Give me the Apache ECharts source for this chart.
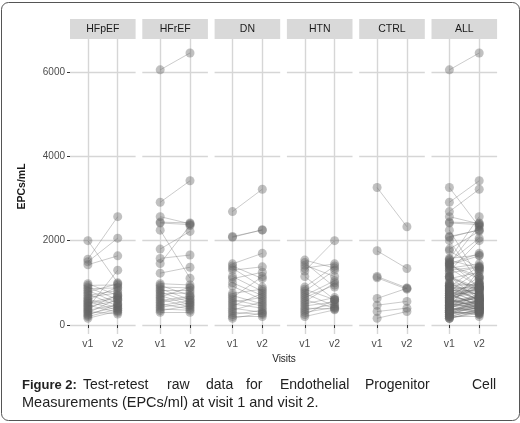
<!DOCTYPE html>
<html><head><meta charset="utf-8">
<script src="https://cdn.jsdelivr.net/npm/echarts@6/dist/echarts.min.js"></script>
<style>html,body{margin:0;padding:0;background:#fff}#c{width:520px;height:423px}</style>
</head><body><div id="c"></div>
<script>
// ---- data (EPCs/mL at visit 1 and visit 2, per group) ----
const panels = ['HFpEF', 'HFrEF', 'DN', 'HTN', 'CTRL', 'ALL'];
const visitLabels = ['v1', 'v2'];
const yTicks = [0, 2000, 4000, 6000];

const HFpEF_v1 = [2000, 1560, 1500, 1430, 980, 940, 900, 860, 820, 780, 740, 700, 660, 620, 590, 560, 530, 500, 470, 440, 410, 380, 350, 320, 290, 260, 230, 200, 160];
const HFpEF_v2 = [1000, 2570, 2060, 1640, 700, 950, 600, 880, 520, 980, 450, 820, 760, 400, 900, 350, 680, 640, 300, 580, 1300, 720, 480, 260, 620, 430, 500, 380, 330];

const HFrEF_v1 = [6050, 2910, 2570, 2440, 2420, 2250, 1800, 1580, 1460, 1230, 980, 940, 900, 860, 820, 780, 740, 700, 660, 620, 580, 540, 500, 460, 420, 380, 340, 300];
const HFrEF_v2 = [6450, 3420, 2400, 2420, 2380, 1110, 2220, 1660, 2360, 1370, 950, 700, 880, 600, 820, 540, 760, 480, 900, 420, 680, 640, 380, 580, 520, 350, 460, 300];

const DN_v1 = [2690, 2100, 2080, 1450, 1400, 1350, 1300, 1150, 1100, 1000, 920, 750, 700, 650, 600, 550, 500, 450, 400, 350, 300, 250, 200, 160];
const DN_v2 = [3220, 2250, 2260, 1700, 1100, 900, 1380, 800, 1250, 700, 600, 850, 500, 1150, 450, 650, 400, 750, 300, 550, 250, 350, 200, 280];

const HTN_v1 = [1540, 1480, 1420, 1350, 1280, 1150, 900, 850, 800, 750, 700, 650, 600, 550, 500, 450, 400, 350, 300, 250, 200];
const HTN_v2 = [1350, 900, 1150, 1450, 2000, 600, 1400, 600, 1300, 450, 1050, 950, 400, 1000, 650, 550, 380, 500, 420, 600, 360];

const CTRL_v1 = [3260, 1760, 1150, 1120, 630, 470, 320, 160];
const CTRL_v2 = [2330, 1340, 880, 850, 870, 560, 400, 320];

const ALL_v1 = [].concat(HFpEF_v1, HFrEF_v1, DN_v1, HTN_v1, CTRL_v1);
const ALL_v2 = [].concat(HFpEF_v2, HFrEF_v2, DN_v2, HTN_v2, CTRL_v2);

const groupV1 = [HFpEF_v1, HFrEF_v1, DN_v1, HTN_v1, CTRL_v1, ALL_v1];
const groupV2 = [HFpEF_v2, HFrEF_v2, DN_v2, HTN_v2, CTRL_v2, ALL_v2];

// ---- layout ----
const FONT = '"Liberation Sans", Arial, sans-serif';
const gLeft = 70, gStep = 72.3, gWidth = 65.6, gTop = 39, gHeight = 295;
const yMin = -213, yMax = 6782;
const gridColor = '#d6d6d6';

const grids = [], xAxes = [], yAxes = [], series = [], graphics = [];

panels.forEach((name, i) => {
  const left = gLeft + i * gStep;
  grids.push({ left: left, top: gTop, width: gWidth, height: gHeight, containLabel: false });
  xAxes.push({
    type: 'value', gridIndex: i, min: 0.4, max: 2.6,
    axisLine: { show: false },
    axisTick: { show: true, customValues: [1, 2], length: 3, lineStyle: { color: '#333', width: 1 } },
    axisLabel: { show: true, customValues: [1, 2], formatter: v => visitLabels[Math.round(v) - 1] || '',
      color: '#4d4d4d', fontSize: 10.5, fontFamily: FONT, margin: 5 },
    splitLine: { show: true, lineStyle: { color: gridColor, width: 1.4 } }
  });
  yAxes.push({
    type: 'value', gridIndex: i, min: yMin, max: yMax,
    axisLine: { show: false },
    axisTick: { show: i === 0, customValues: yTicks, length: 3, lineStyle: { color: '#333', width: 1 } },
    axisLabel: { show: i === 0, customValues: yTicks, formatter: v => String(v),
      color: '#4d4d4d', fontSize: 10, fontFamily: FONT, margin: 5 },
    splitLine: { show: true, lineStyle: { color: gridColor, width: 1.4 } },
    name: i === 0 ? 'EPCs/mL' : '', nameLocation: 'middle', nameGap: 42, nameRotate: 90,
    nameTextStyle: { fontWeight: 'bold', fontSize: 10.5, color: '#1a1a1a', fontFamily: FONT }
  });
  const v1 = groupV1[i], v2 = groupV2[i];
  series.push({
    type: 'lines', coordinateSystem: 'cartesian2d', xAxisIndex: i, yAxisIndex: i,
    polyline: false, silent: true, z: 2,
    lineStyle: { color: 'rgba(105,105,105,0.35)', width: 1, opacity: 1 },
    data: v1.map((a, k) => ({ coords: [[1, a], [2, v2[k]]] }))
  });
  series.push({
    type: 'scatter', xAxisIndex: i, yAxisIndex: i, z: 3, symbolSize: 9, silent: true,
    itemStyle: { color: 'rgba(100,100,100,0.5)' },
    data: v1.map(a => [1, a]).concat(v2.map(b => [2, b]))
  });
  // facet strip
  graphics.push({ type: 'rect', shape: { x: left, y: 19, width: gWidth, height: 20 }, style: { fill: '#d9d9d9' }, silent: true });
  graphics.push({ type: 'text', x: left + gWidth / 2, y: 29.5,
    style: { text: name, fill: '#1a1a1a', font: '10.5px ' + FONT, textAlign: 'center', textVerticalAlign: 'middle' } });
});

// x axis title
graphics.push({ type: 'text', x: 284, y: 359,
  style: { text: 'Visits', fill: '#1a1a1a', font: '10px ' + FONT, textAlign: 'center', textVerticalAlign: 'middle' } });

// frame
graphics.push({ type: 'rect', shape: { x: 1.5, y: 2.5, width: 518, height: 418, r: 7 },
  style: { fill: 'none', stroke: '#555', lineWidth: 1 }, silent: true, z: -1 });

// caption (justified first line)
const capWords = [
  { t: 'Figure 2:', x: 22, b: true }, { t: 'Test-retest', x: 83 },
  { t: 'raw', x: 167 }, { t: 'data', x: 206 }, { t: 'for', x: 246 }, { t: 'Endothelial', x: 280 },
  { t: 'Progenitor', x: 365 }, { t: 'Cell', x: 472 }
];
capWords.forEach(w => graphics.push({ type: 'text', x: w.x, y: 385,
  style: { text: w.t, fill: '#222', font: (w.b ? 'bold 13px ' : '14px ') + FONT, textAlign: 'left', textVerticalAlign: 'middle' } }));
graphics.push({ type: 'text', x: 22, y: 403,
  style: { text: 'Measurements (EPCs/ml) at visit 1 and visit 2.', fill: '#222', font: '14.5px ' + FONT, textAlign: 'left', textVerticalAlign: 'middle' } });

const chart = echarts.init(document.getElementById('c'), null, { renderer: 'canvas' });
chart.setOption({
  animation: false,
  backgroundColor: '#fff',
  grid: grids, xAxis: xAxes, yAxis: yAxes, series: series, graphic: graphics
});
</script>
</body></html>
